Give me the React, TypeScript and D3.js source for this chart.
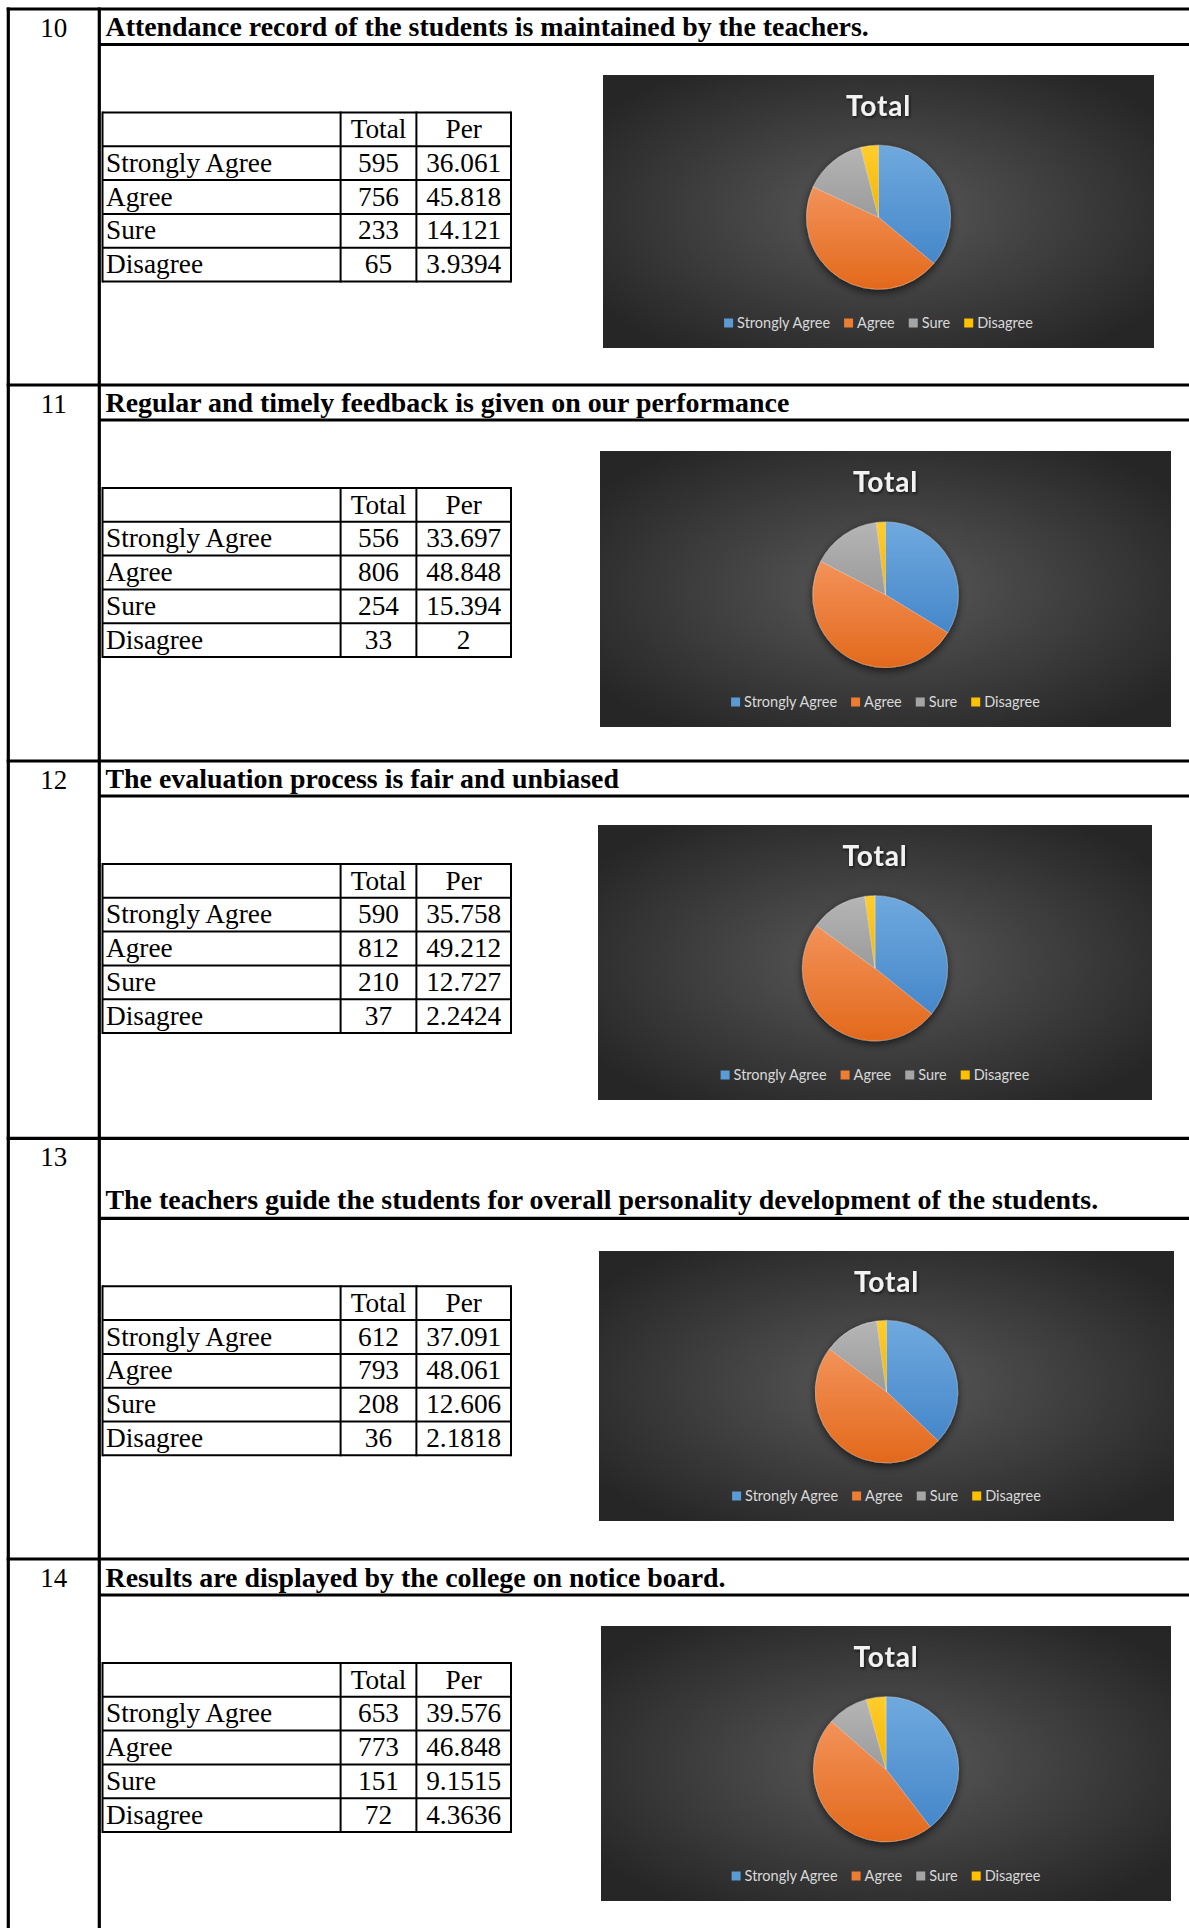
import React, { useEffect, useRef } from 'react';
import * as d3 from 'd3';

// ---------------- data ----------------
const categories = ['Strongly Agree', 'Agree', 'Sure', 'Disagree'];
const columnHeaders = ['Total', 'Per'];
const questionNumbers = ['10', '11', '12', '13', '14'];
const questionTitles = [
  'Attendance record of the students is maintained by the teachers.',
  'Regular and timely feedback is given on our performance',
  'The evaluation process is fair and unbiased',
  'The teachers guide the students for overall personality development of the students.',
  'Results are displayed by the college on notice board.',
];
const totalsQ10 = [595, 756, 233, 65];
const totalsQ11 = [556, 806, 254, 33];
const totalsQ12 = [590, 812, 210, 37];
const totalsQ13 = [612, 793, 208, 36];
const totalsQ14 = [653, 773, 151, 72];
const perQ10 = ['36.061', '45.818', '14.121', '3.9394'];
const perQ11 = ['33.697', '48.848', '15.394', '2'];
const perQ12 = ['35.758', '49.212', '12.727', '2.2424'];
const perQ13 = ['37.091', '48.061', '12.606', '2.1818'];
const perQ14 = ['39.576', '46.848', '9.1515', '4.3636'];
const chartTitle = 'Total';

const totalsByQuestion = [totalsQ10, totalsQ11, totalsQ12, totalsQ13, totalsQ14];
const perByQuestion = [perQ10, perQ11, perQ12, perQ13, perQ14];

// ---------------- styles / layout ----------------
const W = 1189;
const H = 1928;
const SERIF = '"Liberation Serif", "Times New Roman", serif';
const SANS = 'Lato, "Open Sans", sans-serif';
const sliceTop = ['#6fa9de', '#f39259', '#b5b5b5', '#ffcd2e'];
const sliceBottom = ['#4687ca', '#e2691c', '#9b9b9b', '#f2b500'];
const legendColors = ['#5B9BD5', '#ED7D31', '#A5A5A5', '#FFC000'];

const leftBorderX = 8.3;
const innerBorderX = 99.3;
const sectionTops = [9, 385, 761, 1138.3, 1559];
const headerLines = [44.5, 420, 796, 1218.3, 1595];
const numberOffsets = [27.5, 27.5, 27.5, 27.5, 27.5];
const titleOffsets = [8.5, 8.5, 8.5, 9.5, 8.5];
const chartBoxes = [
  [603, 75, 1154, 348],
  [600, 451, 1171, 727],
  [598, 825, 1152, 1100],
  [599, 1251, 1174, 1521],
  [601, 1626, 1171, 1901],
];
const tableCols = [102.5, 340.6, 416.4, 511];
const tableGap = 68;
const rowH = 33.8;

export default function App() {
  const ref = useRef<SVGSVGElement>(null);

  useEffect(() => {
    const svg = d3.select(ref.current);
    svg.selectAll('*').remove();
    const defs = svg.append('defs');

    // shadows
    const pieShadow = defs.append('filter').attr('id', 'pieShadow')
      .attr('x', '-30%').attr('y', '-30%').attr('width', '160%').attr('height', '160%');
    pieShadow.append('feDropShadow').attr('dx', 0).attr('dy', 3).attr('stdDeviation', 4)
      .attr('flood-color', '#000').attr('flood-opacity', 0.65);
    const titleShadow = defs.append('filter').attr('id', 'titleShadow')
      .attr('x', '-20%').attr('y', '-30%').attr('width', '140%').attr('height', '160%');
    titleShadow.append('feDropShadow').attr('dx', 1).attr('dy', 1.5).attr('stdDeviation', 1.5)
      .attr('flood-color', '#000').attr('flood-opacity', 0.7);

    // background gradient
    const bg = defs.append('radialGradient').attr('id', 'bgGrad')
      .attr('cx', '50%').attr('cy', '50%').attr('r', '62%');
    bg.append('stop').attr('offset', '0%').attr('stop-color', '#595959');
    bg.append('stop').attr('offset', '100%').attr('stop-color', '#262626');

    // slice gradients
    categories.forEach((_, i) => {
      const g = defs.append('linearGradient').attr('id', `slice${i}`)
        .attr('x1', 0).attr('y1', 0).attr('x2', 0).attr('y2', 1);
      g.append('stop').attr('offset', '0%').attr('stop-color', sliceTop[i]);
      g.append('stop').attr('offset', '100%').attr('stop-color', sliceBottom[i]);
    });

    svg.append('rect').attr('width', W).attr('height', H).attr('fill', '#fff');

    const frame = svg.append('g').attr('stroke', '#000').attr('stroke-width', 3.2);
    frame.append('line').attr('x1', leftBorderX).attr('x2', leftBorderX).attr('y1', 7.4).attr('y2', H);
    frame.append('line').attr('x1', innerBorderX).attr('x2', innerBorderX).attr('y1', 7.4).attr('y2', H);
    sectionTops.forEach((y) => {
      frame.append('line').attr('x1', leftBorderX - 1.6).attr('x2', W).attr('y1', y).attr('y2', y);
    });
    headerLines.forEach((y) => {
      frame.append('line').attr('x1', innerBorderX).attr('x2', W).attr('y1', y).attr('y2', y);
    });

    const pie = d3.pie<number>().sort(null).value((d) => d);

    questionNumbers.forEach((num, qi) => {
      const g = svg.append('g');
      // number
      g.append('text').attr('x', (leftBorderX + innerBorderX) / 2).attr('y', sectionTops[qi] + numberOffsets[qi])
        .attr('text-anchor', 'middle').attr('font-family', SERIF).attr('font-size', 27).attr('fill', '#000')
        .text(num);
      // title
      g.append('text').attr('x', 105.5).attr('y', headerLines[qi] - titleOffsets[qi])
        .attr('font-family', SERIF).attr('font-weight', 'bold').attr('font-size', 27.9).attr('fill', '#000')
        .text(questionTitles[qi]);

      // table
      const top = headerLines[qi] + tableGap;
      const yRow = d3.scaleLinear().domain([0, categories.length + 1]).range([top, top + rowH * (categories.length + 1)]);
      const tg = g.append('g');
      const lines = tg.append('g').attr('stroke', '#000').attr('stroke-width', 2);
      d3.range(categories.length + 2).forEach((r) => {
        lines.append('line').attr('x1', tableCols[0]).attr('x2', tableCols[3])
          .attr('y1', yRow(r)).attr('y2', yRow(r));
      });
      tableCols.forEach((x) => {
        lines.append('line').attr('x1', x).attr('x2', x).attr('y1', yRow(0) - 1).attr('y2', yRow(categories.length + 1) + 1);
      });
      const txt = (x: number, y: number, s: string, anchor: string) =>
        tg.append('text').attr('x', x).attr('y', y).attr('text-anchor', anchor)
          .attr('font-family', SERIF).attr('font-size', 27.3).attr('fill', '#000').text(s);
      columnHeaders.forEach((h, ci) => {
        txt((tableCols[ci + 1] + tableCols[ci + 2]) / 2, yRow(0) + 25.5, h, 'middle');
      });
      categories.forEach((c, ri) => {
        const yb = yRow(ri + 1) + 25.5;
        txt(tableCols[0] + 3.5, yb, c, 'start');
        txt((tableCols[1] + tableCols[2]) / 2, yb, String(totalsByQuestion[qi][ri]), 'middle');
        txt((tableCols[2] + tableCols[3]) / 2, yb, perByQuestion[qi][ri], 'middle');
      });

      // chart
      const [cx0, cy0, cx1, cy1] = chartBoxes[qi];
      const cw = cx1 - cx0;
      const ch = cy1 - cy0;
      const cg = g.append('g').attr('transform', `translate(${cx0},${cy0})`);
      cg.append('rect').attr('width', cw).attr('height', ch).attr('fill', 'url(#bgGrad)');
      cg.append('text').attr('x', cw / 2).attr('y', 41).attr('text-anchor', 'middle')
        .attr('font-family', SANS).attr('font-weight', 'bold').attr('font-size', 28)
        .attr('letter-spacing', 0.8)
        .attr('fill', '#f2f2f2').attr('filter', 'url(#titleShadow)').text(chartTitle);

      const r = ch * 0.264;
      const arc = d3.arc<d3.PieArcDatum<number>>().innerRadius(0).outerRadius(r);
      const pg = cg.append('g').attr('transform', `translate(${cw / 2},${ch * 0.521})`)
        .attr('filter', 'url(#pieShadow)');
      pg.selectAll('path').data(pie(totalsByQuestion[qi])).enter().append('path')
        .attr('d', arc as any)
        .attr('fill', (_, i) => `url(#slice${i})`)
        .attr('stroke', 'rgba(255,255,255,0.35)').attr('stroke-width', 0.8)
        .attr('stroke-linejoin', 'round');

      // legend
      const ly = ch - 25;
      const lg = cg.append('g');
      const items: { t: any; w: number }[] = [];
      categories.forEach((c) => {
        const t = lg.append('text').attr('y', ly + 5.1).attr('font-family', SANS).attr('font-size', 14.5)
          .attr('fill', '#d9d9d9').text(c);
        const w = (t.node() as SVGTextElement).getComputedTextLength();
        items.push({ t, w });
      });
      const sq = 9;
      const gapSqText = 4;
      const gapItems = 14;
      const totalW = d3.sum(items, (d) => sq + gapSqText + d.w) + gapItems * (items.length - 1);
      let x = cw / 2 - totalW / 2;
      items.forEach((it, i) => {
        lg.append('rect').attr('x', x).attr('y', ly - sq / 2).attr('width', sq).attr('height', sq)
          .attr('fill', legendColors[i]);
        it.t.attr('x', x + sq + gapSqText);
        x += sq + gapSqText + it.w + gapItems;
      });
    });
  }, []);

  return (
    <svg
      ref={ref}
      width={W}
      height={H}
      style={{ position: 'absolute', left: 0, top: 0, display: 'block', background: '#fff' }}
    />
  );
}
